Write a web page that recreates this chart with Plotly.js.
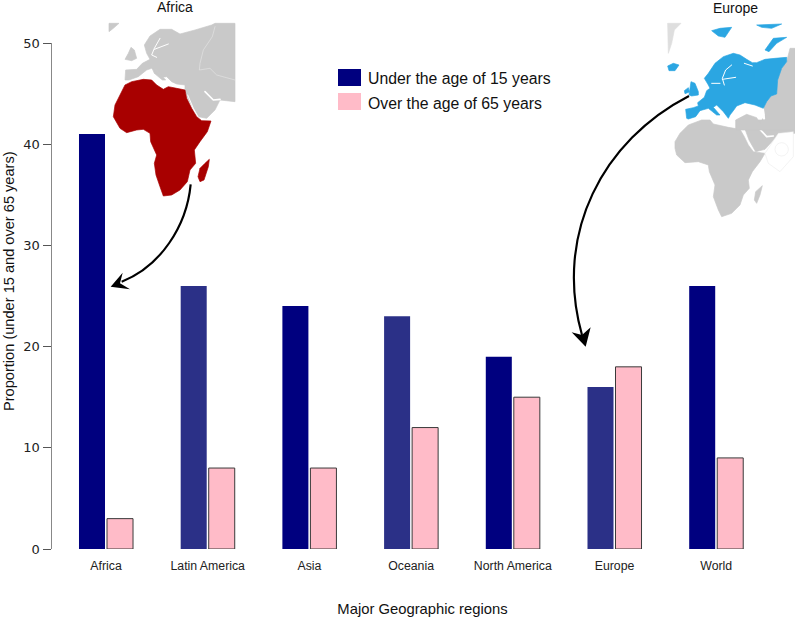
<!DOCTYPE html>
<html>
<head>
<meta charset="utf-8">
<script src="https://cdn.plot.ly/plotly-3.0.1.min.js"></script>
<style>html,body{margin:0;padding:0;background:#fff}#chart{width:795px;height:620px}</style>
</head>
<body>
<div id="chart"></div>
<script>
const regions = ["Africa","Latin America","Asia","Oceania","North America","Europe","World"];
const under15 = [41,26,24,23,19,16,26];
const over65 = [3,8,8,12,15,18,9];
const yTicks = [0,10,20,30,40,50];
const under15Colors = ["#00007F","#2B3087","#00007F","#2B3087","#00007F","#2B3087","#00007F"];

const W=795,H=620,L=52,R=2,T=43,B=71;
const pw=W-L-R, ph=H-T-B;
const px=x=>(x-L)/pw, py=y=>1-(y-T)/ph;

const GREY="#C9C9C9", RED="#A80000", BLUE="#2BA6E2";
function poly(pts,fill){return `<path d="M${pts}Z" fill="${fill}" stroke-linejoin="round" stroke="${fill}" stroke-width="2"/>`;}
function line(d,c,w){return `<path d="${d}" fill="none" stroke="${c}" stroke-width="${w}" stroke-linejoin="round" stroke-linecap="round"/>`;}

const africaGrey = `<g transform="translate(105,20) scale(0.33333)">
${poly("12,10 42,10 25,25 12,35",GREY)}
${poly("60,180 62,150 95,148 112,130 135,118 125,100 118,75 135,48 165,28 200,28 225,42 270,30 320,15 330,10 390,10 390,245 345,240 330,270 305,295 280,290 265,265 248,235 240,210 240,195 215,192 200,185 185,170 170,172 155,150 140,145 125,150 100,170 72,180",GREY)}
${poly("60,118 70,100 78,82 88,90 95,115 80,122",GREY)}
${poly("140,142 155,150 182,180 172,180 148,160",GREY)}
${line("M165,55 L148,85 140,105 155,112 M148,88 L190,72","#fff",3)}
${line("M300,215 L325,240 345,238","#fff",5)}
${line("M330,20 L322,50 295,90 285,130 283,150 315,145 335,165 390,180","#EDEDED",1.5)}
${line("M248,225 L265,265 280,292","#fff",3)}
</g>`;

const africaRed = `<g transform="scale(0.33333)">
${poly("375,255 395,245 430,238 455,240 470,255 490,268 505,260 530,265 555,270 560,295 575,325 590,350 605,362 633,363 622,395 600,425 583,450 587,490 570,510 562,545 540,570 515,585 490,588 480,560 468,525 463,490 470,465 452,425 450,400 430,388 410,390 380,398 360,385 340,350 345,315 360,285",RED)}
${poly("628,478 625,500 612,540 600,545 594,530 600,505 615,490",RED)}
</g>`;

const europeSouth = `<g transform="translate(665,120) scale(0.33333)">
${poly("30,65 45,40 70,15 110,0 135,0 145,12 190,22 225,28 238,50 250,75 265,95 300,100 285,125 262,155 250,180 253,205 235,225 225,255 200,280 170,290 160,270 145,230 150,195 133,155 130,135 100,125 60,128 35,105 30,85",GREY)}
${poly("292,197 285,225 275,250 268,240 272,215",GREY)}
${poly("238,22 240,0 390,0 390,40 340,40 330,55 300,88 272,95 252,60",GREY)}
${line("M285,28 L305,50 325,48","#fff",5)}
<path d="M300,100 L340,40 385,35 385,110 345,155 310,130 Z" fill="#fff" stroke="#E6E6E6" stroke-width="1.5"/>
<circle cx="350" cy="88" r="20" fill="#fff" stroke="#E6E6E6" stroke-width="1.5"/>
</g>`;

const europeNorth = `<g transform="translate(665,20) scale(0.33333)">
${poly("8,10 48,10 28,30 20,70 10,100","#DEDEDE")}
${poly("212,300 245,283 275,293 285,310 300,285 295,265 305,245 318,228 335,222 338,180 350,145 365,125 375,85 390,85 390,330 212,330",GREY)}
${line("M293,262 L297,295","#fff",7)}
${poly("65,295 62,268 85,263 100,258 98,248 118,232 125,212 135,205 130,195 118,175 130,160 150,130 175,110 205,100 225,105 245,118 262,128 275,128 300,118 330,115 365,112 365,125 350,145 338,180 335,222 318,228 305,245 295,265 270,255 240,248 215,258 205,272 195,285 190,295 175,275 155,255 145,262 165,285 155,285 130,265 105,272 92,290 70,297",BLUE)}
${poly("72,225 75,205 78,185 90,190 100,215 100,225 80,228",BLUE)}
${poly("58,212 70,203 73,216 60,221",BLUE)}
${poly("8,138 25,130 42,135 30,152 12,152",BLUE)}
${poly("140,32 165,25 200,22 180,52 160,48",BLUE)}
${poly("275,15 350,12 320,25 290,22",BLUE)}
${poly("300,90 325,55 365,52 335,70 312,95",BLUE)}
${line("M200,135 L182,150 172,175 178,195 M172,178 L212,172 M140,190 L165,190","#fff",3)}
${line("M238,130 L262,138","#fff",3)}
</g>`;

const arrows = `<g transform="scale(0.33333)">
<path d="M572,553 C560,680 480,800 365,845" fill="none" stroke="#000" stroke-width="6.5"/>
<path d="M332,860 L368,818 360,850 390,868 Z" fill="#000"/>
<g transform="translate(1680,0)">
<path d="M387,288 C130,420 -20,700 66,1005" fill="none" stroke="#000" stroke-width="6.5"/>
<path d="M77,1040 L35,997 66,1005 92,982 Z" fill="#000"/>
</g></g>`;

const svg = `<svg xmlns="http://www.w3.org/2000/svg" width="${W}" height="${H}" viewBox="0 0 ${W} ${H}">${africaGrey}${africaRed}${europeSouth}${europeNorth}${arrows}</svg>`;

const font = "Liberation Sans, Arial, sans-serif";
const note=(text,x,y,size,extra)=>Object.assign({text,xref:"paper",yref:"paper",x:px(x),y:py(y),xanchor:"center",yanchor:"middle",showarrow:false,font:{size,color:"#111"}},extra||{});

Plotly.newPlot("chart",[
  {type:"bar",name:"Under the age of 15 years",x:regions,y:under15,marker:{color:under15Colors,line:{width:0}}},
  {type:"bar",name:"Over the age of 65 years",x:regions,y:over65,marker:{color:"#FFBBC8",line:{color:"#3A3A3A",width:1}}}
],{
  width:W,height:H,
  margin:{l:L,r:R,t:T,b:B,pad:0},
  paper_bgcolor:"#fff",plot_bgcolor:"rgba(0,0,0,0)",
  barmode:"group",bargap:0.449,bargroupgap:0.0714,
  showlegend:false,
  font:{family:font,color:"#111"},
  xaxis:{type:"category",range:[-0.531,6.755],showgrid:false,zeroline:false,showline:false,ticks:"outside",ticklen:5,tickcolor:"rgba(0,0,0,0)",tickfont:{size:12.3,color:"#222"},
    title:{text:"Major Geographic regions",font:{size:14.8,color:"#111"},standoff:31},automargin:false},
  yaxis:{range:[0,50],tickvals:yTicks,showgrid:false,zeroline:false,showline:true,linecolor:"#888",linewidth:1.5,ticks:"outside",ticklen:8,tickcolor:"#555",tickwidth:1,
    tickfont:{size:13,color:"#222",family:"DejaVu Sans, sans-serif"},automargin:false},
  images:[{source:"data:image/svg+xml;charset=utf-8,"+encodeURIComponent(svg),xref:"paper",yref:"paper",x:px(0),y:py(0),sizex:W/pw,sizey:H/ph,sizing:"stretch",xanchor:"left",yanchor:"top",layer:"below"}],
  shapes:[
    {type:"rect",xref:"paper",yref:"paper",x0:px(338),x1:px(361),y0:py(69),y1:py(86),fillcolor:"#00007F",line:{width:0}},
    {type:"rect",xref:"paper",yref:"paper",x0:px(338),x1:px(361),y0:py(93),y1:py(110),fillcolor:"#FFBBC8",line:{width:0}}
  ],
  annotations:[
    note("Africa",175,7,14),
    note("Europe",735,8,14),
    note("Under the age of 15 years",366,78,15.8,{xanchor:"left"}),
    note("Over the age of 65 years",366,103,15.8,{xanchor:"left"}),
    note("Proportion (under 15 and over 65 years)",9,281,14.6,{textangle:-90})
  ]
},{displayModeBar:false,staticPlot:true});
</script>
</body>
</html>
